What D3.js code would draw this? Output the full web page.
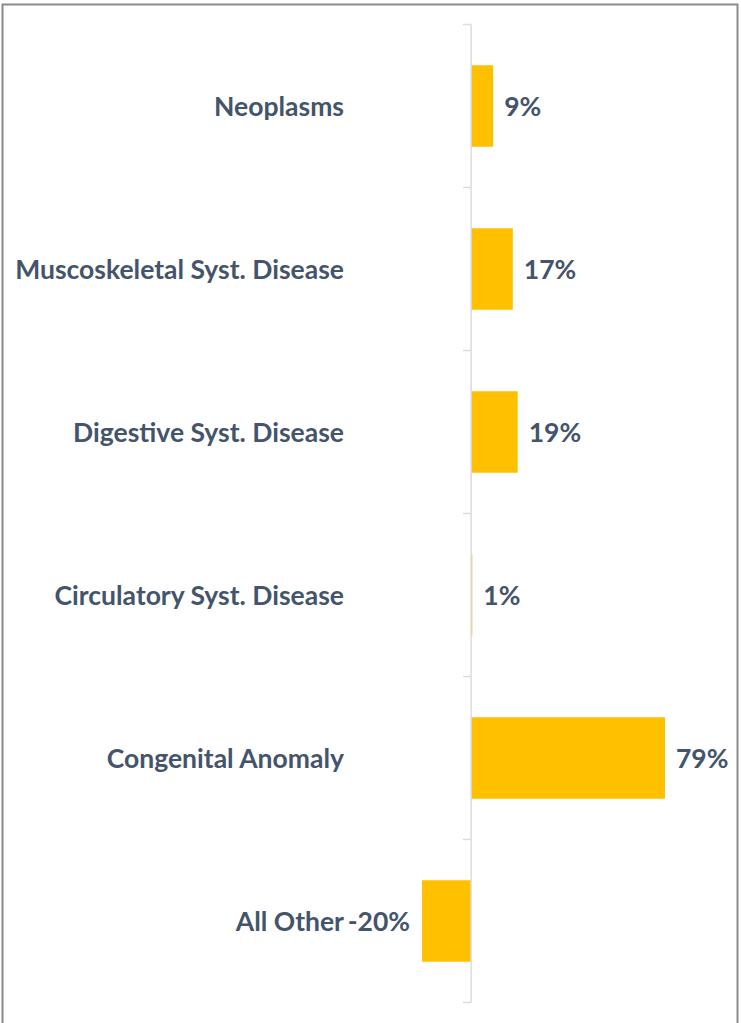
<!DOCTYPE html>
<html>
<head>
<meta charset="utf-8">
<script src="https://cdn.jsdelivr.net/npm/d3@7"></script>
<style>
  body { margin: 0; background: #fff; }
  text { font-family: Lato, "Open Sans", sans-serif; font-weight: bold; fill: #44546a; }
</style>
</head>
<body>
<svg id="chart" width="741" height="1023"></svg>
<script>
'use strict'

// categories top to bottom, share change in %
const categories = ['Neoplasms', 'Muscoskeletal Syst. Disease', 'Digestive Syst. Disease',
  'Circulatory Syst. Disease', 'Congenital Anomaly', 'All Other']
const values = [9, 17, 19, 0.5, 79, -20]

const svg = d3.select('#chart')

// frame
svg.append('rect')
  .attr('x', 2.5).attr('y', 4.5)
  .attr('width', 735).attr('height', 1040)
  .attr('fill', 'none')
  .attr('stroke', '#8a8a8a')
  .attr('stroke-width', 2)

const x = d3.scaleLinear().domain([-20, 79]).range([422, 665])
const y = d3.scaleBand().domain(categories).range([24.5, 1002.5]).paddingInner(0.5).paddingOuter(0.25)

const rows = categories.map((c, i) => ({ c, v: values[i] }))

// bars
svg.selectAll('rect.bar')
  .data(rows)
  .enter().append('rect')
  .attr('class', 'bar')
  .attr('x', d => Math.min(x(0), x(d.v)))
  .attr('y', d => y(d.c))
  .attr('width', d => Math.abs(x(d.v) - x(0)))
  .attr('height', y.bandwidth())
  .attr('fill', '#ffc000')

// axis line at zero with ticks at band edges
const step = y.step()
const edges = d3.range(categories.length + 1).map(i => 24.5 + i * step)
const axis = svg.append('g').attr('stroke', '#d9dce3').attr('stroke-width', 1.5)
axis.append('line')
  .attr('x1', x(0)).attr('x2', x(0))
  .attr('y1', edges[0]).attr('y2', edges[edges.length - 1])
axis.selectAll('line.tick')
  .data(edges)
  .enter().append('line')
  .attr('class', 'tick')
  .attr('x1', x(0) - 8).attr('x2', x(0))
  .attr('y1', d => d).attr('y2', d => d)

const mid = d => y(d.c) + y.bandwidth() / 2

// category labels
svg.selectAll('text.cat')
  .data(rows)
  .enter().append('text')
  .attr('class', 'cat')
  .attr('x', 344)
  .attr('y', d => mid(d) + 9.5)
  .attr('text-anchor', 'end')
  .attr('font-size', 26.5)
  .text(d => d.c)

// value labels
svg.selectAll('text.val')
  .data(rows)
  .enter().append('text')
  .attr('class', 'val')
  .attr('x', d => d.v < 0 ? x(d.v) - 12 : x(d.v) + 11)
  .attr('y', d => mid(d) + 9.5)
  .attr('text-anchor', d => d.v < 0 ? 'end' : 'start')
  .attr('font-size', 26.5)
  .text(d => Math.round(d.v) + '%')
</script>
</body>
</html>
